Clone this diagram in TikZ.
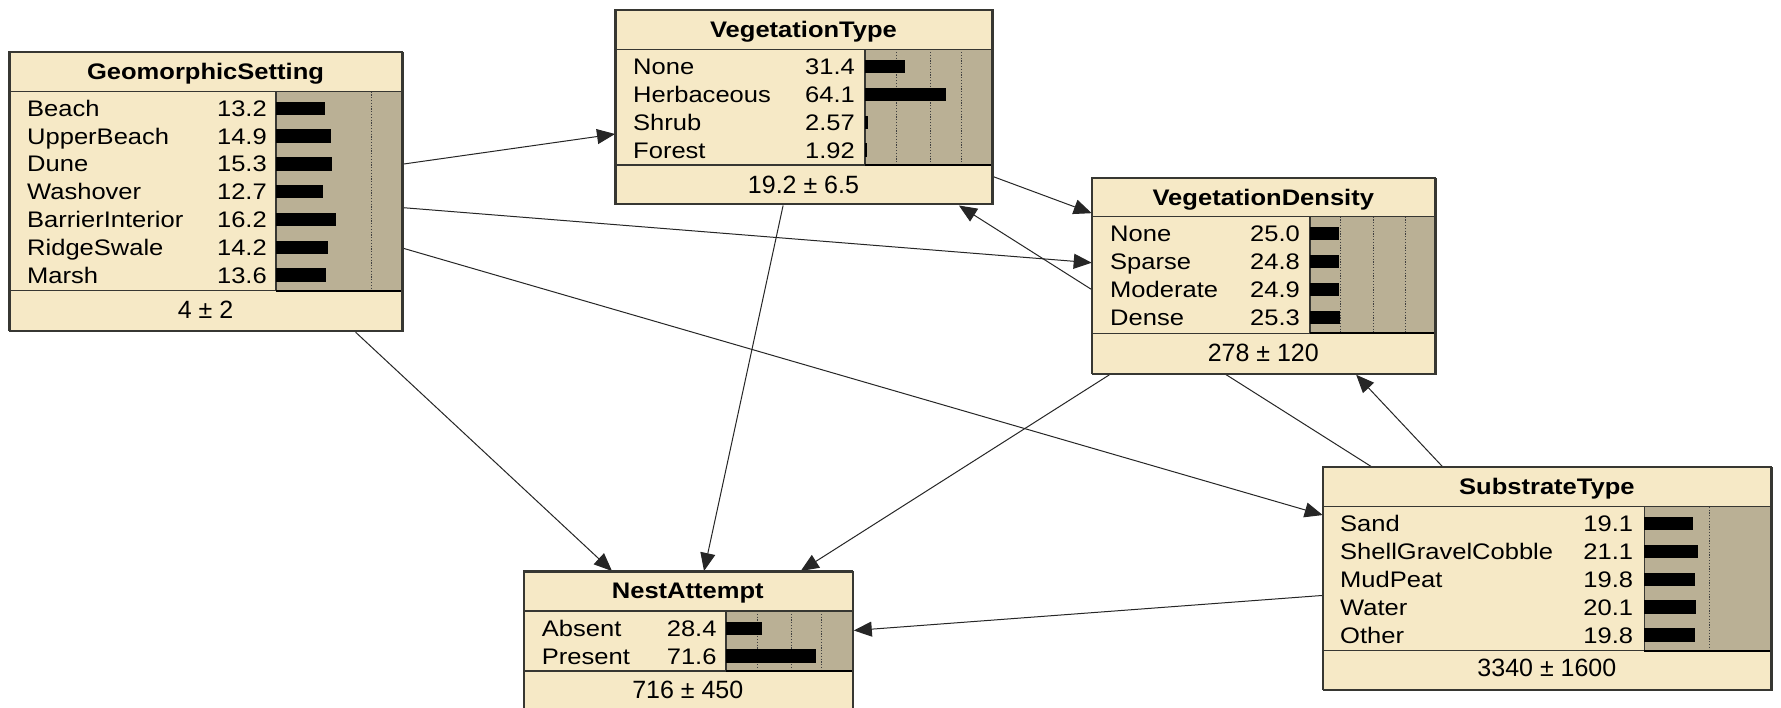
\documentclass[tikz,border=0pt]{standalone}
\usepackage{fontspec}
\setmainfont{Liberation Sans}[FakeStretch=1.135]
\newfontfamily\meanfont{Liberation Sans}
\usetikzlibrary{arrows.meta,backgrounds}

\definecolor{cream}{RGB}{246,233,198}
\definecolor{barfill}{RGB}{186,176,149}
\definecolor{frameline}{RGB}{55,55,50}

\tikzset{
  netbox/.style={draw=frameline, line width=1.5pt, fill=cream, anchor=north west,
                 inner sep=0pt, outer sep=0.75pt},
  boxline/.style={draw=frameline, line width=1.5pt},
  sepline/.style={draw=frameline, line width=1.3pt},
  barline/.style={draw=frameline, line width=1.1pt},
  barbottom/.style={draw=black, line width=2.2pt},
  gridline/.style={draw=black!75, line width=0.9pt, dash pattern=on 1.2pt off 1.6pt},
  txt/.style={inner sep=0pt, font=\fontsize{22.5}{25}\selectfont, text=black},
  titletext/.style={txt, anchor=base, font=\fontsize{22.5}{25}\selectfont\bfseries},
  rowlabel/.style={txt, anchor=base west},
  rowvalue/.style={txt, anchor=base east},
  foottext/.style={txt, anchor=base, font=\meanfont\fontsize{25}{28}\selectfont},
  edge/.style={draw=black!85, line width=1pt, -{Triangle[length=18pt,width=15pt]}},
}

% frame of a belief box: name, left, top, right, title line, bar start, rows end, bottom, grid xs
\newcommand{\netframe}[9]{%
  \node[netbox, minimum width={(#4-#2)*1pt}, minimum height={(#8-#3)*1pt}] (#1) at (#2,#3) {};
  \fill[barfill] (#6,#5) rectangle (#4,#7);
  \foreach \gx in {#9} \draw[gridline] (\gx,#5) -- (\gx,#7);
  \draw[sepline] (#2,#5) -- (#4,#5);
  \draw[sepline] (#2,#7) -- (#4,#7);
  \draw[barline] (#6,#5) -- (#6,#7);
  \draw[barbottom] (#6,#7) -- (#4,#7);
}
% state rows: name, label x, value right x, bar x, first row y, row step, bar scale, label/value list
\newcommand{\netrows}[8]{%
  \foreach \lab/\val [count=\k] in {#8} {
    \pgfmathsetmacro{\yy}{#5+#6*(\k-1)}
    \node[rowlabel] (#1-l\k) at (#2,\yy+8.1) {\lab};
    \node[rowvalue] (#1-v\k) at (#3,\yy+8.1) {\val};
    \fill[black] (#4,\yy-6.6) rectangle ++(#7*\val,13.3);
  }
}
% outer border redrawn over the inner fills: left, top, right, bottom
\newcommand{\netborder}[4]{\draw[boxline] (#1,#2) rectangle (#3,#4);}

\begin{document}
\begin{tikzpicture}[x=1pt,y=-1pt]
\useasboundingbox (0,0) rectangle (1781,708);

% GeomorphicSetting
\netframe{geo}{9}{51.7}{402}{91.7}{276}{290.7}{330.7}{371}
\node[titletext] (geo-t) at (205.5,79.6) {GeomorphicSetting};
\netrows{geo}{27}{267}{276}{108.3}{27.8}{3.68}{Beach/13.2, UpperBeach/14.9, Dune/15.3,
  Washover/12.7, BarrierInterior/16.2, RidgeSwale/14.2, Marsh/13.6}
\node[foottext] (geo-f) at (205.5,318.3) {4 ± 2};
\netborder{9}{51.7}{402}{330.7}

% VegetationType
\netframe{vt}{615}{9.3}{992}{49.3}{865}{165}{204}{896.7,930,961}
\node[titletext] (vt-t) at (803.5,37.2) {VegetationType};
\netrows{vt}{633}{855}{865}{66.7}{27.8}{1.26}{None/31.4, Herbaceous/64.1, Shrub/2.57, Forest/1.92}
\node[foottext] (vt-f) at (803.5,193.3) {19.2 ± 6.5};
\netborder{615}{9.3}{992}{204}

% VegetationDensity
\netframe{vd}{1091.7}{177.7}{1435}{216.7}{1310}{333.3}{373.3}{1340,1373.3,1405.7}
\node[titletext] (vd-t) at (1263.3,205.6) {VegetationDensity};
\netrows{vd}{1110}{1300}{1310}{233.3}{28.1}{1.17}{None/25.0, Sparse/24.8, Moderate/24.9, Dense/25.3}
\node[foottext] (vd-f) at (1263.3,361.7) {278 ± 120};
\netborder{1091.7}{177.7}{1435}{373.3}

% SubstrateType
\netframe{st}{1322.7}{466.7}{1771}{506.7}{1644.3}{650.7}{689.3}{1709}
\node[titletext] (st-t) at (1546.9,494.6) {SubstrateType};
\netrows{st}{1340}{1633.3}{1644.3}{523.3}{27.9}{2.55}{Sand/19.1, ShellGravelCobble/21.1,
  MudPeat/19.8, Water/20.1, Other/19.8}
\node[foottext] (st-f) at (1546.9,676.7) {3340 ± 1600};
\netborder{1322.7}{466.7}{1771}{689.3}

% NestAttempt
\netframe{nest}{523.3}{571}{852.3}{611}{726}{671}{713}{757.7,791,821.7}
\node[titletext] (nest-t) at (687.8,598.9) {NestAttempt};
\netrows{nest}{541.7}{716.7}{726}{628.3}{27.7}{1.257}{Absent/28.4, Present/71.6}
\node[foottext] (nest-f) at (687.8,698.3) {716 ± 450};
\netborder{523.3}{571}{852.3}{713}

% links, behind the boxes
\begin{scope}[on background layer]
  \fill[white] (0,0) rectangle (1781,708);
  \draw[edge] (geo) -- (vt);
  \draw[edge] (geo) -- (vd);
  \draw[edge] (geo) -- (st);
  \draw[edge] (geo) -- (nest);
  \draw[edge] (vt) -- (vd);
  \draw[edge] (vt) -- (nest);
  \draw[edge] (vd) -- (nest);
  \draw[edge] (st) -- (vt);
  \draw[edge] (st) -- (vd);
  \draw[edge] (st) -- (nest);
\end{scope}
\end{tikzpicture}
\end{document}
